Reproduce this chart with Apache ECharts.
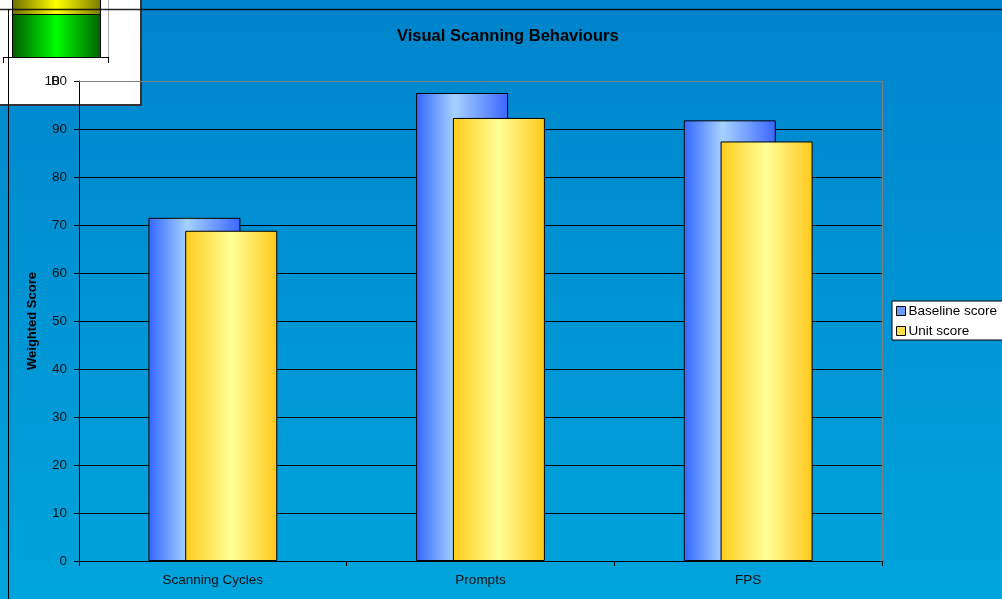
<!DOCTYPE html>
<html>
<head>
<meta charset="utf-8">
<script src="https://cdn.jsdelivr.net/npm/echarts@6/dist/echarts.min.js"></script>
<style>
html,body{margin:0;padding:0;background:#0090d2;}
#c{width:1002px;height:599px;}
</style>
</head>
<body>
<div id="c"></div>
<script>
const categories = ['Scanning Cycles', 'Prompts', 'FPS'];
const baselineScore = [71.5, 97.5, 91.8];
const unitScore = [68.8, 92.3, 87.4];
const yTicks = { min: 0, max: 100, interval: 10 };

const FONT = '"Liberation Sans", Arial, sans-serif';
const chart = echarts.init(document.getElementById('c'), null, { renderer: 'canvas' });

const blueGrad = new echarts.graphic.LinearGradient(0, 0, 1, 0, [
  { offset: 0, color: '#3366ff' },
  { offset: 0.42, color: '#a6d2ff' },
  { offset: 1, color: '#3a66ff' }
]);
const yellowGrad = new echarts.graphic.LinearGradient(0, 0, 1, 0, [
  { offset: 0, color: '#ffcc1a' },
  { offset: 0.5, color: '#ffff99' },
  { offset: 1, color: '#ffc81a' }
]);

const option = {
  backgroundColor: 'transparent',
  animation: false,
  textStyle: { fontFamily: FONT },
  title: {
    text: 'Visual Scanning Behaviours',
    left: 397, top: 28,
    padding: 0,
    textStyle: { fontFamily: FONT, fontSize: 16.5, fontWeight: 'bold', color: '#000' }
  },
  legend: {
    orient: 'vertical',
    left: 892, top: 301,
    padding: [3, 14, 2, 4],
    itemWidth: 9, itemHeight: 9, itemGap: 6,
    backgroundColor: '#fff',
    borderColor: '#000', borderWidth: 1,
    textStyle: { fontFamily: FONT, fontSize: 13.5, color: '#000', padding: [0, 0, 0, -2] },
    data: [
      { name: 'Baseline score', icon: 'rect', itemStyle: { color: '#6f98ff', borderColor: '#000', borderWidth: 1 } },
      { name: 'Unit score', icon: 'rect', itemStyle: { color: '#ffdd44', borderColor: '#000', borderWidth: 1 } }
    ]
  },
  grid: { left: 79, right: 120, top: 81, bottom: 38, show: false },
  xAxis: {
    type: 'category',
    data: categories,
    axisLine: { lineStyle: { color: '#000', width: 1 } },
    axisTick: { show: true, length: 5, lineStyle: { color: '#000' } },
    axisLabel: { margin: 12, fontSize: 13.5, color: '#111', fontFamily: FONT }
  },
  yAxis: {
    type: 'value',
    min: yTicks.min, max: yTicks.max, interval: yTicks.interval,
    name: 'Weighted Score',
    nameLocation: 'middle',
    nameGap: 40,
    nameMoveOverlap: false,
    nameTextStyle: { fontFamily: FONT, fontSize: 13, fontWeight: 'bold', color: '#000' },
    axisLine: { show: true, lineStyle: { color: '#000', width: 1 } },
    axisTick: { show: true, length: 5, lineStyle: { color: '#000' } },
    axisLabel: { margin: 12, fontSize: 13.5, color: '#111', fontFamily: FONT },
    splitLine: { show: true, lineStyle: { color: '#000', width: 1 } }
  },
  series: [
    {
      name: 'Baseline score', type: 'bar', data: baselineScore,
      barWidth: 92, barGap: '-60%',
      itemStyle: { color: blueGrad, borderColor: '#000', borderWidth: 1 }
    },
    {
      name: 'Unit score', type: 'bar', data: unitScore,
      barWidth: 92,
      itemStyle: { color: yellowGrad, borderColor: '#000', borderWidth: 1 }
    }
  ],
  graphic: [
    { type: 'rect', z: -100, silent: true, shape: { x: 0, y: 0, width: 1002, height: 599 },
      style: { fill: new echarts.graphic.LinearGradient(0, 0, 0, 1, [
        { offset: 0, color: '#0084cc' }, { offset: 1, color: '#00a4dc' }]) } },
    { type: 'rect', z: -50, silent: true, shape: { x: -2, y: -2, width: 143, height: 107 },
      style: { fill: '#fff', stroke: '#333', lineWidth: 2 } },
    { type: 'line', z: -40, silent: true, shape: { x1: 108.5, y1: 0, x2: 108.5, y2: 57 }, style: { stroke: '#aaa', lineWidth: 1 } },
    { type: 'rect', z: -40, silent: true, shape: { x: 12.5, y: -2, width: 88, height: 16.5 },
      style: { fill: new echarts.graphic.LinearGradient(0, 0, 1, 0, [
        { offset: 0, color: '#6e6e00' }, { offset: 0.5, color: '#ffff00' }, { offset: 1, color: '#7a7a00' }]),
        stroke: '#000', lineWidth: 1 } },
    { type: 'rect', z: -40, silent: true, shape: { x: 12.5, y: 14.5, width: 88, height: 43 },
      style: { fill: new echarts.graphic.LinearGradient(0, 0, 1, 0, [
        { offset: 0, color: '#005a00' }, { offset: 0.5, color: '#00ff00' }, { offset: 1, color: '#006000' }]),
        stroke: '#000', lineWidth: 1 } },
    { type: 'line', z: -40, silent: true, shape: { x1: 3, y1: 57.5, x2: 109, y2: 57.5 }, style: { stroke: '#000', lineWidth: 1 } },
    { type: 'line', z: -40, silent: true, shape: { x1: 3.5, y1: 57.5, x2: 3.5, y2: 63 }, style: { stroke: '#000', lineWidth: 1 } },
    { type: 'line', z: -40, silent: true, shape: { x1: 108.5, y1: 57.5, x2: 108.5, y2: 63 }, style: { stroke: '#000', lineWidth: 1 } },
    { type: 'text', z: 50, silent: true, x: 51, y: 81,
      style: { text: 'B', font: '13.5px ' + FONT, fill: '#111', verticalAlign: 'middle', align: 'left' } },
    { type: 'polyline', z: 50, silent: true, shape: { points: [[79, 81.5], [882.5, 81.5], [882.5, 561]] },
      style: { stroke: '#7f7f7f', lineWidth: 1, fill: null } },
    { type: 'line', z: 60, silent: true, shape: { x1: 0, y1: 9.5, x2: 1002, y2: 9.5 }, style: { stroke: 'rgba(0,0,0,0.85)', lineWidth: 1.6 } },
    { type: 'line', z: 60, silent: true, shape: { x1: 8.5, y1: 9, x2: 8.5, y2: 599 }, style: { stroke: '#000', lineWidth: 1 } }
  ]
};
chart.setOption(option);
</script>
</body>
</html>
